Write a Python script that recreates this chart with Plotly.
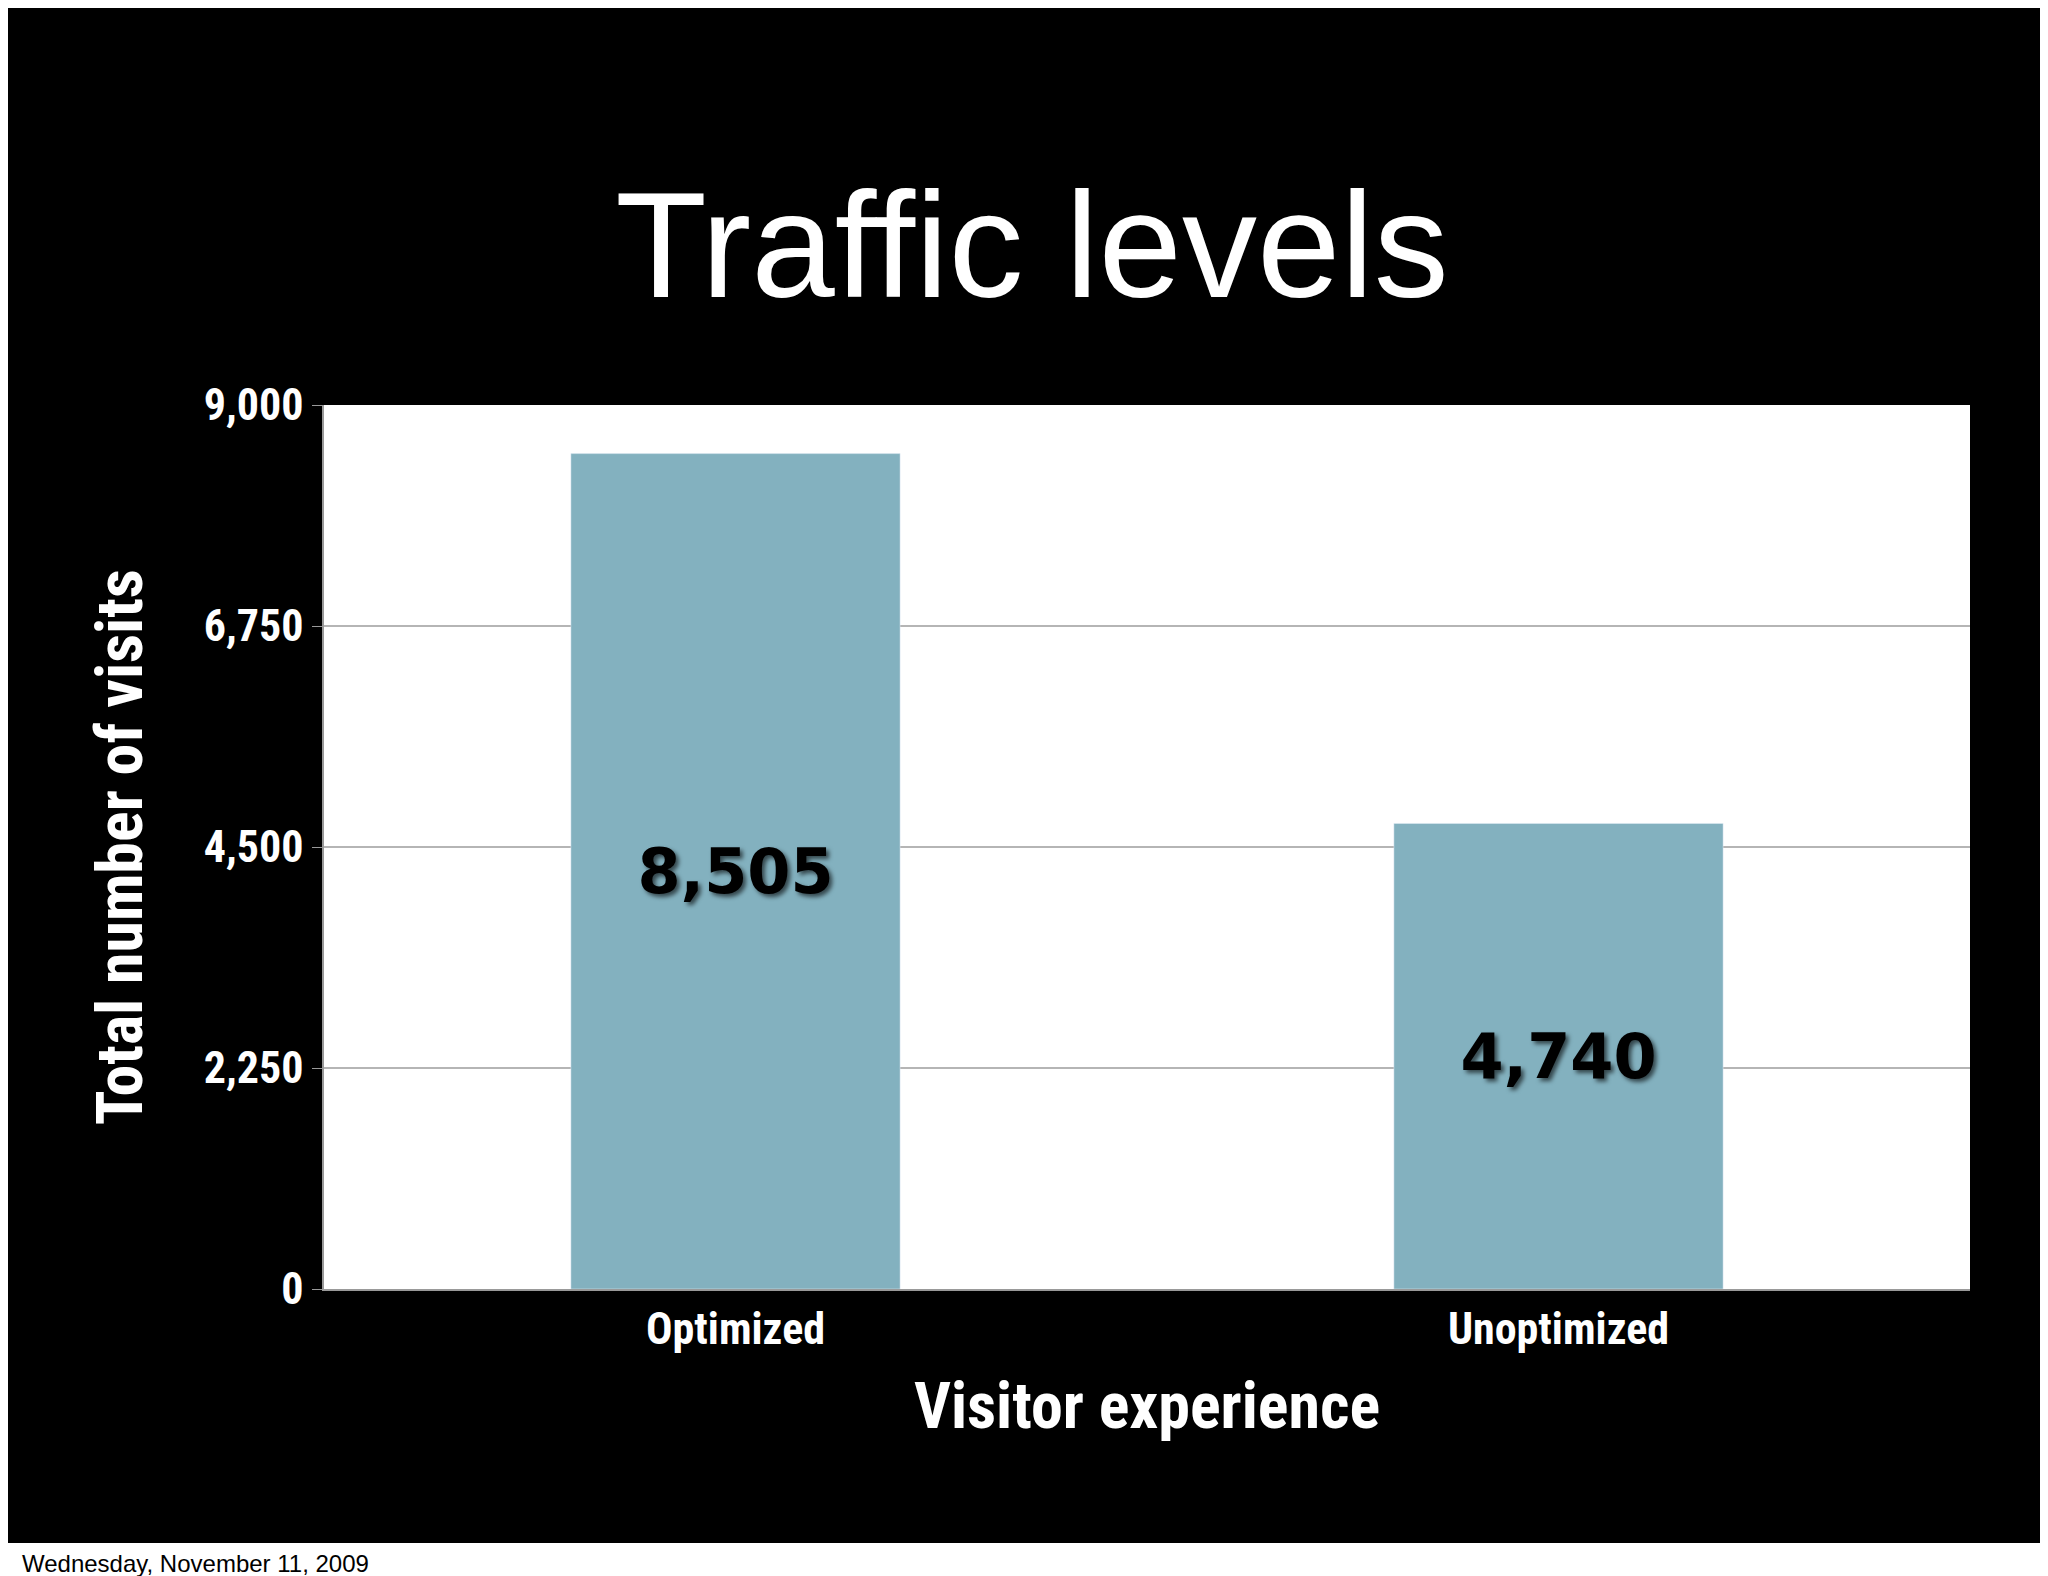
import plotly.graph_objects as go

categories = ["Optimized", "Unoptimized"]
visits = [8505, 4740]
yticks = [0, 2250, 4500, 6750, 9000]

W, H = 2048, 1576
L, R, T, B = 316, 86, 397, 295
pw, ph = W - L - R, H - T - B
cond = "Liberation Sans Narrow, Roboto Condensed, Arial Narrow, sans-serif"

fig = go.Figure(go.Bar(
    x=categories, y=visits, width=0.4, marker_color="#83b1bf",
    text=[f"{v:,}" for v in visits], textposition="inside", insidetextanchor="middle",
    textfont=dict(family="DejaVu Sans", size=62, color="black", weight="bold",
                  shadow="3px 3px 4px rgba(0,0,0,0.6)"),
    cliponaxis=False,
))

fig.update_layout(
    width=W, height=H, margin=dict(l=L, r=R, t=T, b=B),
    paper_bgcolor="white", plot_bgcolor="white", showlegend=False,
    title=dict(text="Traffic levels", x=0.5, xanchor="center", y=1 - 236 / H, yanchor="middle",
               font=dict(family="Liberation Sans, Arial", size=150, color="white", weight=300)),
    yaxis=dict(range=[0, 9000], tickvals=yticks, tickformat=",", showgrid=True,
               gridcolor="#b5b5b5", gridwidth=1.5, ticks="outside", ticklen=10, tickcolor="#999",
               showline=True, linecolor="#999", linewidth=1.5,
               tickfont=dict(family=cond, size=44, color="white", weight="bold"),
               title=dict(text="Total number of visits", standoff=40,
                          font=dict(family=cond, size=64, color="white", weight="bold"))),
    xaxis=dict(showline=True, linecolor="#999", linewidth=1.5, ticks="",
               tickfont=dict(family=cond, size=44, color="white", weight="bold"),
               title=dict(text="Visitor experience", standoff=30,
                          font=dict(family=cond, size=64, color="white", weight="bold"))),
    shapes=[
        dict(type="rect", xref="paper", yref="paper", layer="below", line_width=0,
             fillcolor="black", x0=-(L + 20) / pw, x1=(W - L + 20) / pw,
             y0=-(1535 - (H - B)) / ph, y1=(H - B + 20) / ph),
        dict(type="rect", xref="paper", yref="paper", layer="below", line_width=0,
             fillcolor="white", x0=0, x1=1, y0=0, y1=1),
    ],
    annotations=[dict(text="Wednesday, November 11, 2009", xref="paper", yref="paper",
                      x=-L / pw + 12 / pw, y=-(1555 - (H - B)) / ph, xanchor="left", yanchor="middle",
                      showarrow=False, font=dict(family="Liberation Sans, Arial", size=24, color="black"))],
)

fig.write_html("out.html")
